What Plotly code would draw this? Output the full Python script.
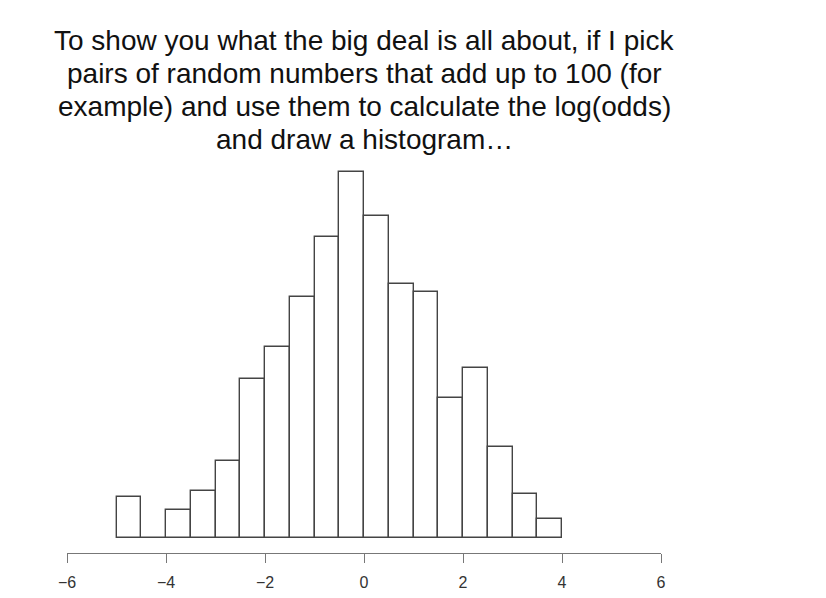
import plotly.graph_objects as go

# Histogram of log(odds): bin left edges, bin width, and heights
bin_left = [-5.0, -4.5, -4.0, -3.5, -3.0, -2.5, -2.0, -1.5, -1.0, -0.5,
            0.0, 0.5, 1.0, 1.5, 2.0, 2.5, 3.0, 3.5]
bin_width = 0.5
heights = [41, 0, 28, 47, 77, 159, 191, 241, 301, 366,
           322, 254, 246, 140, 170, 91, 44, 19]

tick_vals = [-6, -4, -2, 0, 2, 4, 6]
title_lines = [
    "To show you what the big deal is all about, if I pick",
    "pairs of random numbers that add up to 100 (for",
    "example) and use them to calculate the log(odds)",
    "and draw a histogram…",
]

centers = [b + bin_width / 2 for b in bin_left]

fig = go.Figure()
fig.add_trace(go.Bar(
    x=centers, y=heights, width=[bin_width] * len(centers),
    marker=dict(color="white", line=dict(color="#444444", width=1.4)),
    hoverinfo="skip",
))

# title lines, 33 px apart, centred over the plot
for i, line in enumerate(title_lines):
    fig.add_annotation(
        text=line, x=0, xref="x", y=1.0, yref="paper",
        yanchor="middle", yshift=168 - (40 + 33 * i), showarrow=False, align="center",
        font=dict(family="Liberation Sans, Arial, sans-serif", size=28, color="#111111"),
    )

fig.update_layout(
    width=826, height=598,
    margin=dict(l=67, r=165, t=168, b=45, autoexpand=False),
    paper_bgcolor="white", plot_bgcolor="white",
    showlegend=False, bargap=0,
    xaxis=dict(range=[-6, 6], tickvals=tick_vals, showgrid=False, zeroline=False,
               automargin=False,
               showline=True, linecolor="#777777", linewidth=1.3,
               ticks="outside", ticklen=9, tickcolor="#777777", tickwidth=1.3,
               tickfont=dict(family="Liberation Sans, Arial, sans-serif", size=16, color="#333333"),
               ticklabelstandoff=6),
    yaxis=dict(range=[-15, 370], visible=False, showgrid=False, zeroline=False,
               automargin=False),
)

fig.write_html("out.html")
